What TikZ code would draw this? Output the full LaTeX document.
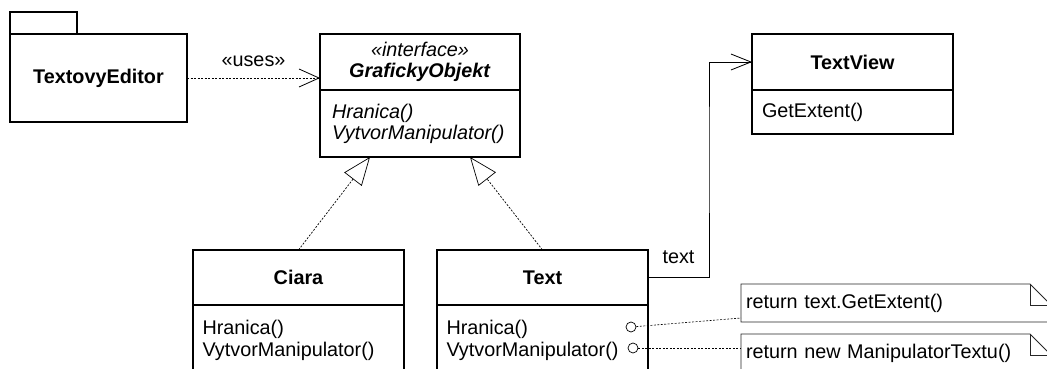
\documentclass[tikz,border=0pt]{standalone}
\usepackage{fontspec}
\setmainfont{Liberation Sans}
\usetikzlibrary{arrows.meta, positioning, calc}

\begin{document}
\begin{tikzpicture}[x=1pt, y=-1pt, >=latex,
    uml/.style={font=\fontsize{19.8}{22}\selectfont},
    box/.style={draw, line width=1.2pt, outer sep=0pt, uml},
    head/.style={box, font=\fontsize{19.8}{22}\selectfont\bfseries, align=center, minimum height=56pt},
    body/.style={box, align=left, inner ysep=0pt},
    port/.style={draw, circle, inner sep=0pt, minimum size=10pt, line width=0.7pt},
    note/.style={uml, align=left, minimum height=38pt, text width=300pt, inner xsep=5pt, outer sep=0pt},
    realize/.style={line width=0.7pt, dash pattern=on 2pt off 1.5pt, -{Triangle[open, length=28pt, width=22pt]}},
    depend/.style={line width=0.8pt, dash pattern=on 2pt off 1.5pt, -{Straight Barb[length=20pt, width=18pt]}},
    assoc/.style={line width=0.8pt, -{Straight Barb[length=20pt, width=16pt]}},
    link/.style={line width=0.6pt, dash pattern=on 2pt off 1.5pt}]
    \useasboundingbox (0,0) rectangle (1047,369);
    \clip (0,0) rectangle (1047,369);

    % Nodes
    \node (pkgTab) [box, minimum width=67pt, minimum height=22pt] at (43.5,23) {};
    \node (editor) [head, minimum width=177pt, minimum height=88pt] at (98.5,78) {TextovyEditor};

    \node (ifaceHead) [head, minimum width=200pt, font=\fontsize{19.8}{21}\selectfont] at (420,62)
        {\textit{«interface»}\\\textbf{\textit{GrafickyObjekt}}};
    \node (ifaceBody) [body, below=0pt of ifaceHead, text width=176pt, inner xsep=12pt, minimum height=67pt, font=\fontsize{19.8}{21}\selectfont\itshape]
        {Hranica()\\VytvorManipulator()};

    \node (viewHead) [head, minimum width=201pt] at (852.5,62) {TextView};
    \node (viewBody) [body, below=0pt of viewHead, text width=181pt, inner xsep=10pt, minimum height=44pt] {GetExtent()};

    \node (ciaraHead) [head, minimum width=211pt, minimum height=55pt] at (298.5,277.5) {Ciara};
    \node (ciaraBody) [body, below=0pt of ciaraHead, text width=192pt, inner xsep=9.5pt, minimum height=71pt]
        {Hranica()\\VytvorManipulator()};

    \node (textHead) [head, minimum width=211pt, minimum height=55pt] at (542.5,277.5) {Text};
    \node (textBody) [body, below=0pt of textHead, text width=192pt, inner xsep=9.5pt, minimum height=71pt]
        {Hranica()\\VytvorManipulator()};
    \node (pHran) [port] at (631,327) {};
    \node (pVytv) [port] at (633,348) {};

    \node (note1) [note] at (896,303) {return text.GetExtent()};
    \node (note2) [note] at (896,353) {return new ManipulatorTextu()};
    \coordinate (turn) at (709,150);

    % Folded corners of the notes
    \foreach \n in {note1,note2} {
        \draw[line width=0.8pt, black!85] (\n.north west) -- ($(\n.north east)+(-21pt,0)$)
            -- ($(\n.north east)+(0,-21pt)$) -- (\n.south east) -- (\n.south west) -- cycle;
        \draw[line width=0.8pt, black!85] ($(\n.north east)+(-21pt,0)$) -- ++(0,-21pt) -- ++(21pt,0);
    }

    % Connections
    \draw[depend] (editor.east) -- node[above=8pt, uml] {«uses»} (editor.east -| ifaceHead.west);
    \draw[realize] (ciaraHead.north) -- ($(ifaceBody.south west)!0.25!(ifaceBody.south east)$);
    \draw[realize] (textHead.north) -- ($(ifaceBody.south west)!0.75!(ifaceBody.south east)$);
    \draw[assoc] (textHead.east) -| node[pos=0.25, above=10pt, uml] {text} (turn) |- (viewHead.west);

    % Notes attached to the operations
    \draw[link] (pHran) -- ($(note1.south west)+(0,4pt)$);
    \draw[link] (pVytv) -- (note2.west |- pVytv);

\end{tikzpicture}
\end{document}
